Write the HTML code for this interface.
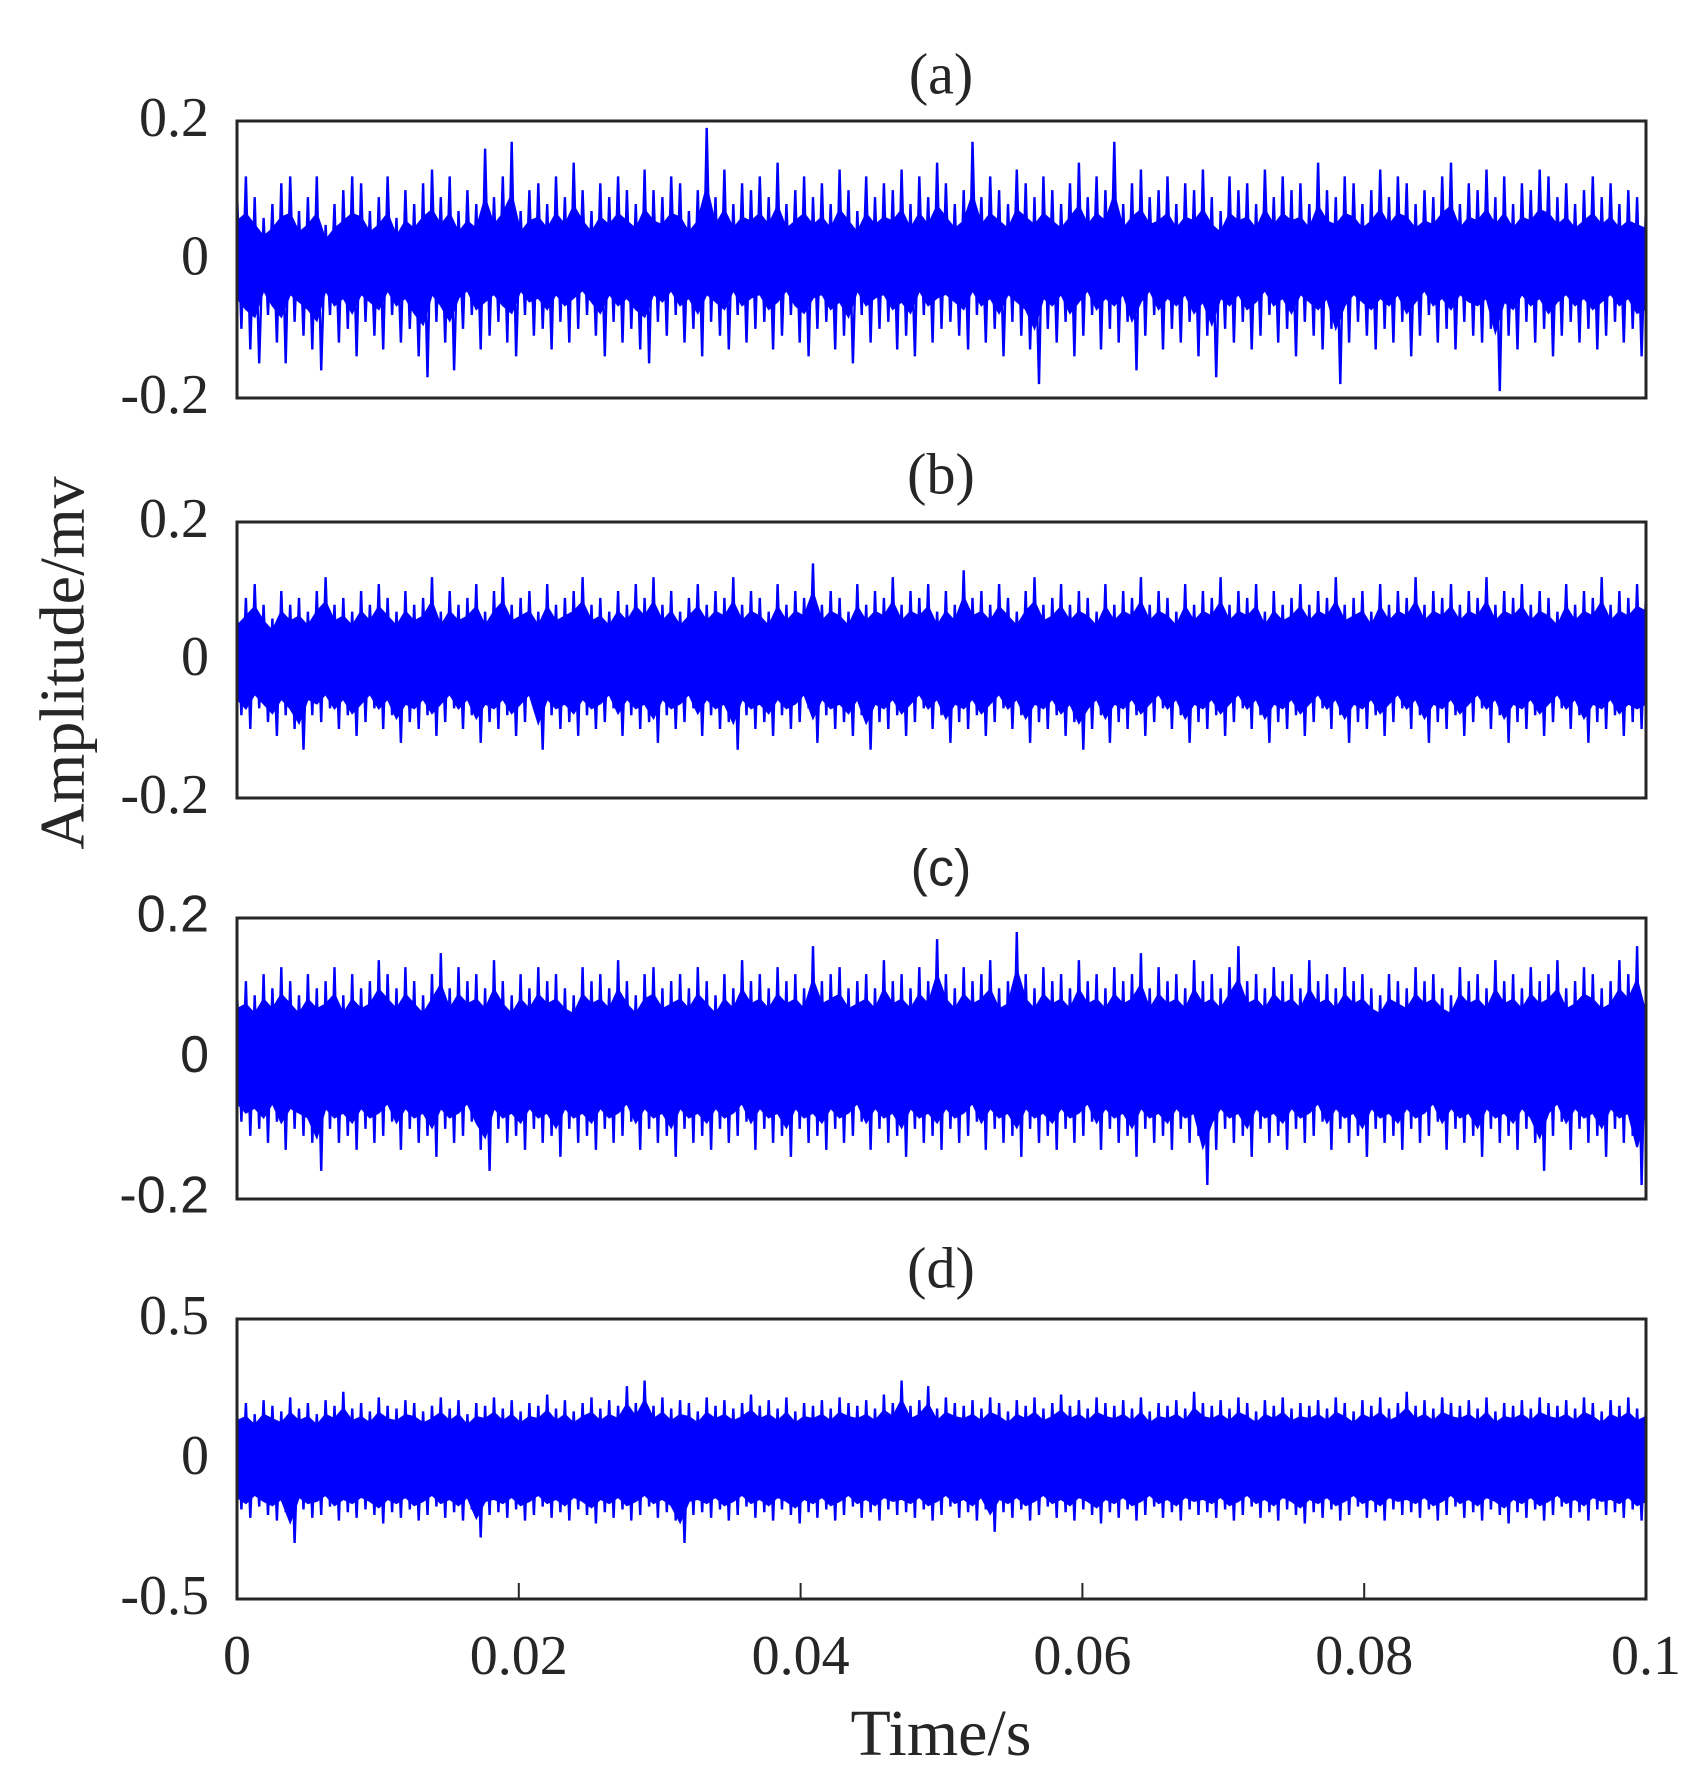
<!DOCTYPE html>
<html><head><meta charset="utf-8"><style>
html,body{margin:0;padding:0;background:#fff;}
svg{display:block;}
.serif{font-family:"Liberation Serif",serif;fill:#262626;}
.sans{font-family:"Liberation Sans",sans-serif;fill:#262626;}
</style></head><body>
<svg id="chart" width="1696" height="1792" viewBox="0 0 1696 1792">
<rect width="1696" height="1792" fill="#fff"/>
<text class="serif" x="69" y="663" font-size="64" text-anchor="middle" dominant-baseline="middle" transform="rotate(-90 69 663)">Amplitude/mv</text>
<text class="serif" x="941" y="1740" font-size="66" text-anchor="middle" dominant-baseline="middle">Time/s</text>
<g id="panels"></g>
</svg>
<script>
// data in units of 0.01 mV (envelope peaks of the signal)
const timeRange = [0, 0.1];
const xTickLabels = ["0","0.02","0.04","0.06","0.08","0.1"];
const xTickValues = [0,0.02,0.04,0.06,0.08,0.1];
const titles = ["(a)","(b)","(c)","(d)"];
const yLimits = [0.2,0.2,0.2,0.5];
const yTickLabelsA = ["0.2","0","-0.2"];
const yTickLabelsD = ["0.5","0","-0.5"];
const highA=[10,12,9,6,8,11,12,7,9,12,5,8,10,12,11,7,9,12,6,10,8,11,13,9,12,7,10,8,16,9,12,17,7,10,11,8,12,9,14,10,7,11,9,12,10,8,13,10,9,12,11,7,10,19,9,13,8,11,10,12,9,14,8,10,12,9,11,8,13,10,7,12,9,11,10,13,8,12,9,14,11,8,10,17,9,12,10,8,13,11,9,12,10,8,11,14,9,12,10,17,8,11,13,9,10,12,8,11,10,13,9,7,12,10,11,8,13,9,12,10,11,8,14,10,9,12,11,8,10,13,9,12,11,8,10,9,12,14,8,11,10,13,9,12,8,11,10,13,12,9,11,8,10,12,9,11,8,10,9,8];
const lowA=[-10,-13,-15,-8,-12,-15,-9,-11,-13,-16,-8,-12,-10,-14,-9,-11,-13,-8,-12,-10,-14,-17,-9,-12,-16,-10,-8,-13,-11,-9,-12,-14,-8,-11,-10,-13,-9,-12,-10,-8,-11,-14,-9,-12,-10,-13,-15,-9,-11,-8,-12,-10,-14,-9,-11,-13,-8,-12,-10,-9,-13,-11,-8,-12,-14,-10,-9,-13,-11,-15,-8,-12,-10,-9,-13,-11,-14,-8,-12,-10,-9,-11,-13,-8,-12,-10,-14,-9,-11,-13,-18,-10,-12,-9,-14,-11,-8,-13,-10,-12,-9,-16,-11,-8,-13,-10,-12,-9,-14,-11,-17,-10,-12,-9,-13,-11,-8,-12,-10,-14,-9,-11,-13,-10,-18,-12,-9,-11,-13,-10,-12,-9,-14,-11,-8,-12,-10,-13,-9,-11,-12,-10,-19,-11,-13,-9,-12,-10,-14,-11,-9,-12,-10,-13,-11,-9,-12,-10,-14,-13];
const highB=[7,9,11,8,6,10,8,9,7,10,12,8,9,7,10,8,11,9,7,10,8,9,12,7,10,8,9,11,7,10,12,8,9,10,7,11,8,9,10,12,8,9,7,10,8,11,9,12,8,10,7,9,11,8,10,9,12,8,10,9,7,11,8,10,9,14,8,10,9,7,11,8,10,9,12,8,10,9,11,7,10,8,13,9,10,8,11,9,7,10,12,8,9,11,8,10,9,7,11,8,10,9,12,8,10,9,7,11,8,10,9,12,8,10,9,11,7,10,8,9,11,8,10,9,12,8,9,10,7,11,8,10,9,12,8,10,9,11,8,10,9,12,8,10,9,11,8,10,9,7,11,8,10,9,12,8,10,9,11,10];
const lowB=[-8,-10,-7,-9,-11,-8,-10,-13,-8,-9,-7,-10,-8,-11,-9,-7,-10,-8,-12,-9,-10,-8,-11,-9,-7,-10,-8,-12,-9,-10,-8,-11,-9,-7,-13,-8,-10,-9,-11,-8,-10,-9,-7,-11,-8,-10,-9,-12,-8,-10,-9,-7,-11,-8,-10,-9,-13,-8,-10,-9,-11,-8,-10,-9,-7,-12,-8,-10,-9,-11,-8,-13,-9,-10,-8,-11,-9,-7,-10,-8,-12,-9,-10,-8,-11,-9,-7,-10,-8,-12,-9,-10,-8,-11,-9,-13,-10,-8,-12,-9,-10,-8,-11,-9,-7,-10,-8,-12,-9,-10,-8,-11,-9,-7,-10,-8,-12,-9,-10,-8,-11,-9,-7,-10,-8,-12,-9,-10,-8,-11,-9,-7,-10,-8,-12,-9,-10,-8,-11,-9,-7,-10,-8,-12,-9,-10,-8,-11,-9,-7,-10,-8,-12,-9,-10,-8,-11,-9,-10,-9];
const highC=[10,11,9,12,10,13,11,9,12,10,11,13,9,12,10,11,14,12,10,13,11,9,12,15,10,13,11,12,10,14,11,9,12,10,13,11,12,10,9,13,11,12,10,14,11,9,12,13,10,11,12,10,13,11,9,12,10,14,11,12,10,13,11,12,10,16,11,12,13,10,11,12,10,14,11,12,10,13,11,17,12,10,13,11,12,14,10,11,18,12,10,13,11,12,10,14,11,12,10,13,11,12,15,10,13,11,12,10,14,11,12,10,13,16,11,12,10,13,11,12,10,14,11,12,10,13,11,12,10,9,12,11,10,13,11,12,10,9,13,11,12,10,14,11,12,10,13,11,12,14,10,11,13,12,10,11,14,12,16,9];
const lowC=[-9,-11,-10,-12,-9,-13,-10,-11,-12,-16,-10,-12,-11,-13,-10,-12,-11,-9,-13,-10,-12,-11,-14,-10,-12,-11,-9,-13,-16,-10,-12,-11,-13,-10,-12,-11,-14,-10,-12,-11,-13,-10,-12,-11,-9,-13,-10,-12,-11,-14,-10,-12,-11,-13,-10,-12,-11,-9,-13,-10,-12,-11,-14,-10,-12,-11,-13,-10,-12,-11,-9,-13,-10,-12,-11,-14,-10,-12,-11,-13,-10,-12,-11,-9,-13,-10,-12,-11,-14,-10,-12,-11,-13,-10,-12,-11,-9,-13,-10,-12,-11,-14,-10,-12,-11,-13,-10,-12,-11,-18,-13,-10,-12,-11,-14,-10,-12,-11,-13,-10,-12,-11,-9,-13,-10,-12,-11,-14,-10,-12,-11,-13,-10,-12,-11,-9,-13,-10,-12,-11,-14,-10,-12,-11,-13,-10,-12,-16,-11,-9,-13,-10,-12,-11,-14,-10,-12,-11,-18,-10];
const highD=[18,20,16,21,19,17,22,18,20,16,21,19,24,18,20,17,22,19,18,21,20,17,19,22,18,21,16,20,19,22,18,21,17,20,19,23,18,21,17,20,22,18,21,19,26,20,28,19,22,18,21,20,17,22,19,21,18,20,23,19,21,18,22,17,20,19,21,18,22,20,19,21,18,23,20,28,19,21,26,18,22,20,19,21,18,22,20,17,21,19,22,18,20,23,19,21,18,22,20,19,21,18,22,17,20,19,21,18,24,20,19,21,18,22,20,17,21,19,22,18,20,19,21,18,22,20,17,21,19,22,18,20,24,19,21,18,22,20,19,21,18,22,17,20,19,21,18,22,20,19,21,18,22,20,17,21,19,22,18,20];
const lowD=[-18,-21,-17,-20,-22,-19,-30,-18,-21,-20,-17,-22,-19,-21,-18,-20,-23,-19,-21,-18,-22,-20,-17,-21,-19,-22,-18,-28,-20,-19,-21,-18,-22,-20,-17,-21,-19,-22,-18,-20,-23,-19,-21,-18,-22,-20,-17,-21,-19,-22,-30,-20,-19,-21,-18,-22,-20,-17,-21,-19,-22,-18,-20,-23,-19,-21,-18,-22,-20,-17,-21,-19,-22,-18,-20,-19,-21,-18,-22,-20,-17,-21,-19,-22,-18,-26,-19,-21,-18,-22,-20,-17,-21,-19,-22,-18,-20,-23,-19,-21,-18,-22,-20,-17,-21,-19,-22,-18,-20,-19,-21,-18,-22,-20,-17,-21,-19,-22,-18,-20,-23,-19,-21,-18,-22,-20,-17,-21,-19,-22,-18,-20,-19,-21,-18,-22,-20,-17,-21,-19,-22,-18,-20,-23,-19,-21,-18,-22,-20,-17,-21,-19,-22,-18,-20,-19,-21,-18,-22,-20];
const highs=[highA,highB,highC,highD];
const lows=[lowA,lowB,lowC,lowD];

const NS="http://www.w3.org/2000/svg";
const X0=237,X1=1646;
const boxes=[[121,398],[522,798],[918,1199],[1319,1599]];
const titleY=[80,480,872,1274];
const coreFrac=[0.55,0.7,0.7,0.75];
const root=document.getElementById('panels');
function xScale(t){return X0+(t-timeRange[0])/(timeRange[1]-timeRange[0])*(X1-X0);}
function yScale(p,v){const [t,b]=boxes[p];const L=yLimits[p];return b-(v+L)/(2*L)*(b-t);}
function mk(tag,attrs){const e=document.createElementNS(NS,tag);for(const k in attrs)e.setAttribute(k,attrs[k]);return e;}

for(let p=0;p<4;p++){
  const g=mk('g',{});
  
  
  root.appendChild(g);
  const [top,bot]=boxes[p];
  const isSans=(p===2);
  const cls=isSans?'sans':'serif';
  const ttl=mk('text',{class:cls,x:941,y:titleY[p],'font-size':isSans?52:58,'text-anchor':'middle','dominant-baseline':'middle'});
  ttl.textContent=titles[p];
  
  
  g.appendChild(ttl);
  const hi=highs[p],lo=lows[p];
  const n=hi.length;
  const step=(timeRange[1]-timeRange[0])/(n-1);
  // dense core band of the signal
  let up='',dn='';
  const upPts=[],dnPts=[];
  for(let i=0;i<n;i++){
    const t=timeRange[0]+step*i;
    upPts.push(xScale(t).toFixed(1)+','+yScale(p,hi[i]/100*coreFrac[p]).toFixed(1));
    dnPts.push(xScale(t).toFixed(1)+','+yScale(p,lo[i]/100*coreFrac[p]).toFixed(1));
  }
  const core=mk('polygon',{points:upPts.concat(dnPts.reverse()).join(' '),fill:'#0000ff',stroke:'#0000ff','stroke-width':2});
  
  
  g.appendChild(core);
  // spiky trace
  let d='';
  for(let i=0;i<n;i++){
    const t=timeRange[0]+step*i;
    const xh=xScale(t), xl=xScale(Math.min(timeRange[1],t+step/2));
    d+=(i===0?'M':'L')+xh.toFixed(1)+','+yScale(p,hi[i]/100).toFixed(1)+'L'+xl.toFixed(1)+','+yScale(p,lo[i]/100).toFixed(1);
  }
  const path=mk('path',{d:d,fill:'none',stroke:'#0000ff','stroke-width':2.4});
  
  
  g.appendChild(path);
  const box=mk('rect',{x:X0,y:top,width:X1-X0,height:bot-top,fill:'none',stroke:'#262626','stroke-width':3});
  
  
  g.appendChild(box);
  const labs=p===3?yTickLabelsD:yTickLabelsA;
  const vals=[yLimits[p],0,-yLimits[p]];
  for(let k=0;k<3;k++){
    const tx=mk('text',{class:cls,x:209,y:yScale(p,vals[k])+(isSans?0:2),'font-size':isSans?52:56,'text-anchor':'end','dominant-baseline':'middle'});
    tx.textContent=labs[k];
    
    
    g.appendChild(tx);
  }
  if(p===3){
    for(let k=0;k<xTickValues.length;k++){
      const x=xScale(xTickValues[k]);
      if(k>0&&k<xTickValues.length-1){
        const tk=mk('line',{x1:x,x2:x,y1:bot,y2:bot-16,stroke:'#262626','stroke-width':2});
        
        
        g.appendChild(tk);
      }
      const tl=mk('text',{class:'serif',x:x,y:1661,'font-size':56,'text-anchor':'middle','dominant-baseline':'middle'});
      tl.textContent=xTickLabels[k];
      
      
      g.appendChild(tl);
    }
  }
}
</script>
</body></html>
